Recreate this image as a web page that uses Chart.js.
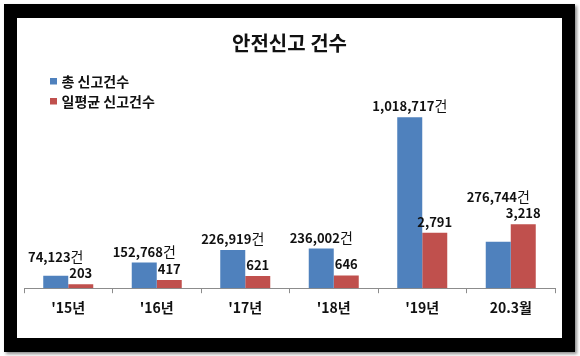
<!DOCTYPE html>
<html>
<head>
<meta charset="utf-8">
<script src="https://cdn.jsdelivr.net/npm/chart.js@4.4.1/dist/chart.umd.min.js"></script>
<style>
  html, body { margin: 0; padding: 0; background: #fff; }
  #frame { position: absolute; left: 4px; top: 4px; width: 571px; height: 348px; background: #000;
           box-shadow: 2px 2px 3px rgba(0,0,0,0.45); }
  #inner { position: absolute; left: 13px; top: 14px; width: 545px; height: 320px; background: #fff; }
  canvas { display: block; }
</style>
</head>
<body>
<div id="frame"><div id="inner"><canvas id="c" width="545" height="320"></canvas></div></div>
<script>
const categories = ["'15년", "'16년", "'17년", "'18년", "'19년", "20.3월"];
const totalReports = [74123, 152768, 226919, 236002, 1018717, 276744];
const dailyAvgReports = [203, 417, 621, 646, 2791, 3218];
const seriesNames = ['총 신고건수', '일평균 신고건수'];
const chartTitle = '안전신고 건수';
const totalUnit = '건';

const FONT = "'Noto Sans CJK KR', 'Noto Sans', sans-serif";
const COLORS = ['#4F81BD', '#C0504D'];

const fmt = v => v.toLocaleString('en-US');

const valueLabels = {
  id: 'valueLabels',
  afterDatasetsDraw(chart) {
    const ctx = chart.ctx;
    ctx.save();
    ctx.fillStyle = '#111';
    ctx.textBaseline = 'alphabetic';
    const metas = chart.data.datasets.map((ds, di) => chart.getDatasetMeta(di));
    const n = chart.data.labels.length;
    for (let i = 0; i < n; i++) {
      const items = chart.data.datasets.map((ds, di) => {
        const bar = metas[di].data[i];
        const num = fmt(ds.data[i]);
        const unit = di === 0 ? totalUnit : '';
        ctx.font = 'bold 13px ' + FONT;
        const w1 = ctx.measureText(num).width;
        ctx.font = '14px ' + FONT;
        const w2 = unit ? ctx.measureText(unit).width : 0;
        return { num, unit, w1, w2, x0: bar.x - (w1 + w2) / 2, y: bar.y - 6 };
      });
      // avoid overlap: the wide total label sits above the daily-average label
      const a = items[0], b = items[1];
      const hOverlap = a.x0 + a.w1 + a.w2 > b.x0 - 2;
      if (hOverlap && a.y > b.y - 16) a.y = b.y - 16;
      items.forEach(it => {
        ctx.textAlign = 'left';
        ctx.font = 'bold 13px ' + FONT;
        ctx.fillText(it.num, it.x0, it.y);
        if (it.unit) {
          ctx.font = '14px ' + FONT;
          ctx.fillText(it.unit, it.x0 + it.w1, it.y);
        }
      });
    }
    ctx.restore();
  }
};

const sideLegend = {
  id: 'sideLegend',
  afterDraw(chart) {
    const ctx = chart.ctx;
    ctx.save();
    ctx.font = 'bold 14px ' + FONT;
    ctx.textBaseline = 'middle';
    ctx.textAlign = 'left';
    chart.data.datasets.forEach((ds, i) => {
      const cy = 63 + i * 20;
      ctx.fillStyle = ds.backgroundColor;
      ctx.fillRect(33, cy - 3, 7, 6.5);
      ctx.fillStyle = '#111';
      ctx.fillText(ds.label, 44.5, cy + 0.5);
    });
    ctx.restore();
  }
};

new Chart(document.getElementById('c'), {
  type: 'bar',
  data: {
    labels: categories,
    datasets: [
      { label: seriesNames[0], data: totalReports, backgroundColor: COLORS[0], yAxisID: 'y',
        categoryPercentage: 0.565, barPercentage: 1.0, borderWidth: 0 },
      { label: seriesNames[1], data: dailyAvgReports, backgroundColor: COLORS[1], yAxisID: 'y1',
        categoryPercentage: 0.565, barPercentage: 1.0, borderWidth: 0 }
    ]
  },
  options: {
    responsive: false,
    devicePixelRatio: 1,
    animation: false,
    layout: { padding: { left: 7, right: 7, top: 0, bottom: 16 } },
    plugins: {
      legend: { display: false },
      tooltip: { enabled: false },
      title: {
        display: true,
        text: chartTitle,
        color: '#111',
        font: { family: FONT, size: 20, weight: 'bold' },
        padding: { top: 13, bottom: 15 }
      }
    },
    scales: {
      x: {
        grid: { display: true, drawOnChartArea: false, drawTicks: true, tickLength: 5, color: '#8c8c8c', offset: true },
        border: { display: true, color: '#8c8c8c' },
        ticks: { color: '#111', padding: 6, font: { family: FONT, size: 14, weight: 'bold' } }
      },
      y: { display: false, min: 0, max: 1300000 },
      y1: { display: false, min: 0, max: 11000 }
    }
  },
  plugins: [valueLabels, sideLegend]
});
</script>
</body>
</html>
